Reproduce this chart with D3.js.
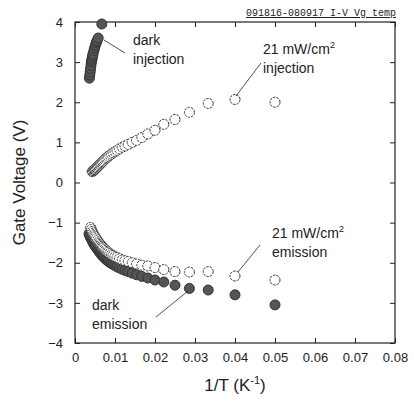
<!DOCTYPE html>
<html>
<head>
<meta charset="utf-8">
<script src="https://cdn.jsdelivr.net/npm/d3@7"></script>
<style>
  body { margin: 0; background: #fff; }
  svg { display: block; font-family: "Liberation Sans", Arial, sans-serif; }
</style>
</head>
<body>
<div id="chart"></div>
<script>
// 1/T (K^-1) and gate voltage (V)
var darkInjX = [0.0036, 0.0037, 0.0038, 0.0039, 0.0040, 0.0041, 0.0042, 0.0043, 0.0044, 0.0045, 0.0047, 0.0049, 0.0051, 0.0053, 0.0055, 0.0058, 0.0067];
var darkInjY = [2.6, 2.68, 2.76, 2.84, 2.92, 3.0, 3.05, 3.1, 3.15, 3.2, 3.28, 3.35, 3.42, 3.48, 3.53, 3.6, 3.95];

var lightInjX = [0.0043, 0.0044, 0.0045, 0.0047, 0.0048, 0.0049, 0.0050, 0.0051, 0.0053, 0.0054, 0.0056, 0.0057, 0.0059, 0.0061, 0.0063, 0.0065, 0.0067, 0.0069, 0.0071, 0.0074, 0.0077, 0.0080, 0.0083, 0.0087, 0.0091, 0.0095, 0.0100, 0.0105, 0.0111, 0.0118, 0.0125, 0.0133, 0.0143, 0.0154, 0.0167, 0.0182, 0.0200, 0.0222, 0.0250, 0.0286, 0.0333, 0.0400, 0.0500];
var lightInjY = [0.27, 0.28, 0.29, 0.30, 0.31, 0.32, 0.33, 0.34, 0.36, 0.37, 0.39, 0.40, 0.42, 0.44, 0.46, 0.48, 0.50, 0.52, 0.54, 0.57, 0.60, 0.62, 0.65, 0.68, 0.71, 0.74, 0.77, 0.80, 0.84, 0.88, 0.91, 0.95, 1.00, 1.05, 1.12, 1.21, 1.30, 1.45, 1.57, 1.75, 1.97, 2.07, 2.00];

var lightEmX = [0.0039, 0.0041, 0.0043, 0.0045, 0.0047, 0.0049, 0.0051, 0.0053, 0.0056, 0.0059, 0.0061, 0.0063, 0.0065, 0.0067, 0.0069, 0.0071, 0.0074, 0.0077, 0.0080, 0.0083, 0.0087, 0.0091, 0.0095, 0.0100, 0.0105, 0.0111, 0.0118, 0.0125, 0.0133, 0.0143, 0.0154, 0.0167, 0.0182, 0.0200, 0.0222, 0.0250, 0.0286, 0.0333, 0.0400, 0.0500];
var lightEmY = [-1.12, -1.17, -1.22, -1.26, -1.30, -1.33, -1.36, -1.40, -1.44, -1.48, -1.51, -1.54, -1.56, -1.59, -1.61, -1.63, -1.66, -1.69, -1.72, -1.74, -1.77, -1.80, -1.82, -1.85, -1.87, -1.90, -1.93, -1.95, -1.97, -2.00, -2.03, -2.06, -2.08, -2.12, -2.17, -2.22, -2.23, -2.22, -2.33, -2.43];

var darkEmX = [0.0035, 0.0037, 0.0039, 0.0041, 0.0043, 0.0045, 0.0047, 0.0049, 0.0051, 0.0053, 0.0056, 0.0059, 0.0061, 0.0063, 0.0065, 0.0067, 0.0069, 0.0071, 0.0074, 0.0077, 0.0080, 0.0083, 0.0087, 0.0091, 0.0095, 0.0100, 0.0105, 0.0111, 0.0118, 0.0125, 0.0133, 0.0143, 0.0154, 0.0167, 0.0182, 0.0200, 0.0222, 0.0250, 0.0286, 0.0333, 0.0400, 0.0500];
var darkEmY = [-1.28, -1.33, -1.37, -1.41, -1.45, -1.49, -1.53, -1.56, -1.59, -1.62, -1.66, -1.70, -1.73, -1.76, -1.78, -1.81, -1.83, -1.85, -1.88, -1.91, -1.94, -1.96, -1.99, -2.02, -2.04, -2.07, -2.10, -2.13, -2.16, -2.19, -2.22, -2.26, -2.30, -2.34, -2.38, -2.43, -2.48, -2.56, -2.64, -2.68, -2.80, -3.05];

var xTicks = [0, 0.01, 0.02, 0.03, 0.04, 0.05, 0.06, 0.07, 0.08];
var yTicks = [-4, -3, -2, -1, 0, 1, 2, 3, 4];

var width = 414, height = 402;
var margin = {left: 75, right: 19, top: 22, bottom: 59};

var svg = d3.select("#chart").append("svg")
  .attr("width", width)
  .attr("height", height);

var x = d3.scaleLinear().domain([0, 0.08]).range([margin.left, width - margin.right]);
var y = d3.scaleLinear().domain([-4, 4]).range([height - margin.bottom, margin.top]);

var ink = "#222";

// frame
svg.append("rect")
  .attr("x", x(0)).attr("y", y(4))
  .attr("width", x(0.08) - x(0)).attr("height", y(-4) - y(4))
  .attr("fill", "none").attr("stroke", ink).attr("stroke-width", 1.2);

var fmtX = function(d) { return d === 0 ? "0" : d3.format(".2f")(d); };

// axes with inward ticks
svg.append("g")
  .attr("transform", `translate(0,${y(-4)})`)
  .call(d3.axisBottom(x).tickValues(xTicks).tickSizeInner(-5).tickSizeOuter(0).tickPadding(10).tickFormat(fmtX))
  .call(g => g.select(".domain").remove());
svg.append("g")
  .attr("transform", `translate(0,${y(4)})`)
  .call(d3.axisTop(x).tickValues(xTicks).tickSizeInner(-5).tickSizeOuter(0).tickFormat(""))
  .call(g => g.select(".domain").remove());
svg.append("g")
  .attr("transform", `translate(${x(0)},0)`)
  .call(d3.axisLeft(y).tickValues(yTicks).tickSizeInner(-5).tickSizeOuter(0).tickPadding(12))
  .call(g => g.select(".domain").remove());
svg.append("g")
  .attr("transform", `translate(${x(0.08)},0)`)
  .call(d3.axisRight(y).tickValues(yTicks).tickSizeInner(-5).tickSizeOuter(0).tickFormat(""))
  .call(g => g.select(".domain").remove());

svg.selectAll(".tick line").attr("stroke", ink);
svg.selectAll(".tick text")
  .attr("fill", ink)
  .style("font-family", "'Liberation Sans', Arial, sans-serif")
  .style("font-size", "13px");

// axis titles
svg.append("text")
  .attr("x", x(0.04)).attr("y", 391)
  .attr("text-anchor", "middle")
  .attr("fill", ink)
  .style("font-size", "17px")
  .html('1/T (K<tspan dy="-7" font-size="11">-1</tspan><tspan dy="7">)</tspan>');

svg.append("text")
  .attr("transform", `translate(25,${y(0)}) rotate(-90)`)
  .attr("text-anchor", "middle")
  .attr("fill", ink)
  .style("font-size", "17px")
  .text("Gate Voltage (V)");

// header stamp
svg.append("text")
  .attr("x", 396).attr("y", 16)
  .attr("text-anchor", "end")
  .attr("fill", ink)
  .style("font-family", "'Liberation Mono', 'DejaVu Sans Mono', monospace")
  .style("font-size", "10px")
  .style("text-decoration", "underline")
  .text("091816-080917 I-V Vg temp");

function plotSeries(xs, ys, filled) {
  svg.append("g")
    .selectAll("circle")
    .data(xs.map((d, i) => [d, ys[i]]))
    .join("circle")
    .attr("cx", d => x(d[0]))
    .attr("cy", d => y(d[1]))
    .attr("r", 5)
    .attr("fill", filled ? "#555" : "#fff")
    .attr("stroke", "#333")
    .attr("stroke-width", 1)
    .attr("stroke-dasharray", filled ? null : "2.5,1");
}

plotSeries(darkEmX, darkEmY, true);
plotSeries(lightEmX, lightEmY, false);
plotSeries(lightInjX, lightInjY, false);
plotSeries(darkInjX, darkInjY, true);

// annotations
function label(lines, x0, y0) {
  var t = svg.append("text").attr("fill", ink).style("font-size", "14px");
  lines.forEach(function(l, i) {
    t.append("tspan").attr("x", x0).attr("y", y0 + i * 19).html(l);
  });
}
function pointer(x1, y1, x2, y2) {
  svg.append("line")
    .attr("x1", x1).attr("y1", y1).attr("x2", x2).attr("y2", y2)
    .attr("stroke", ink).attr("stroke-width", 0.8);
}

label(["dark", "injection"], 133, 45);
pointer(104, 40, 125, 53);

label(['21 mW/cm<tspan dy="-6" font-size="9">2</tspan>', "injection"], 263, 54);
pointer(261, 63, 236, 96);

label(['21 mW/cm<tspan dy="-6" font-size="9">2</tspan>', "emission"], 272, 238);
pointer(260, 245, 238, 272);

label(["dark", "emission"], 92, 310);
pointer(156, 317, 188, 291);
</script>
</body>
</html>
